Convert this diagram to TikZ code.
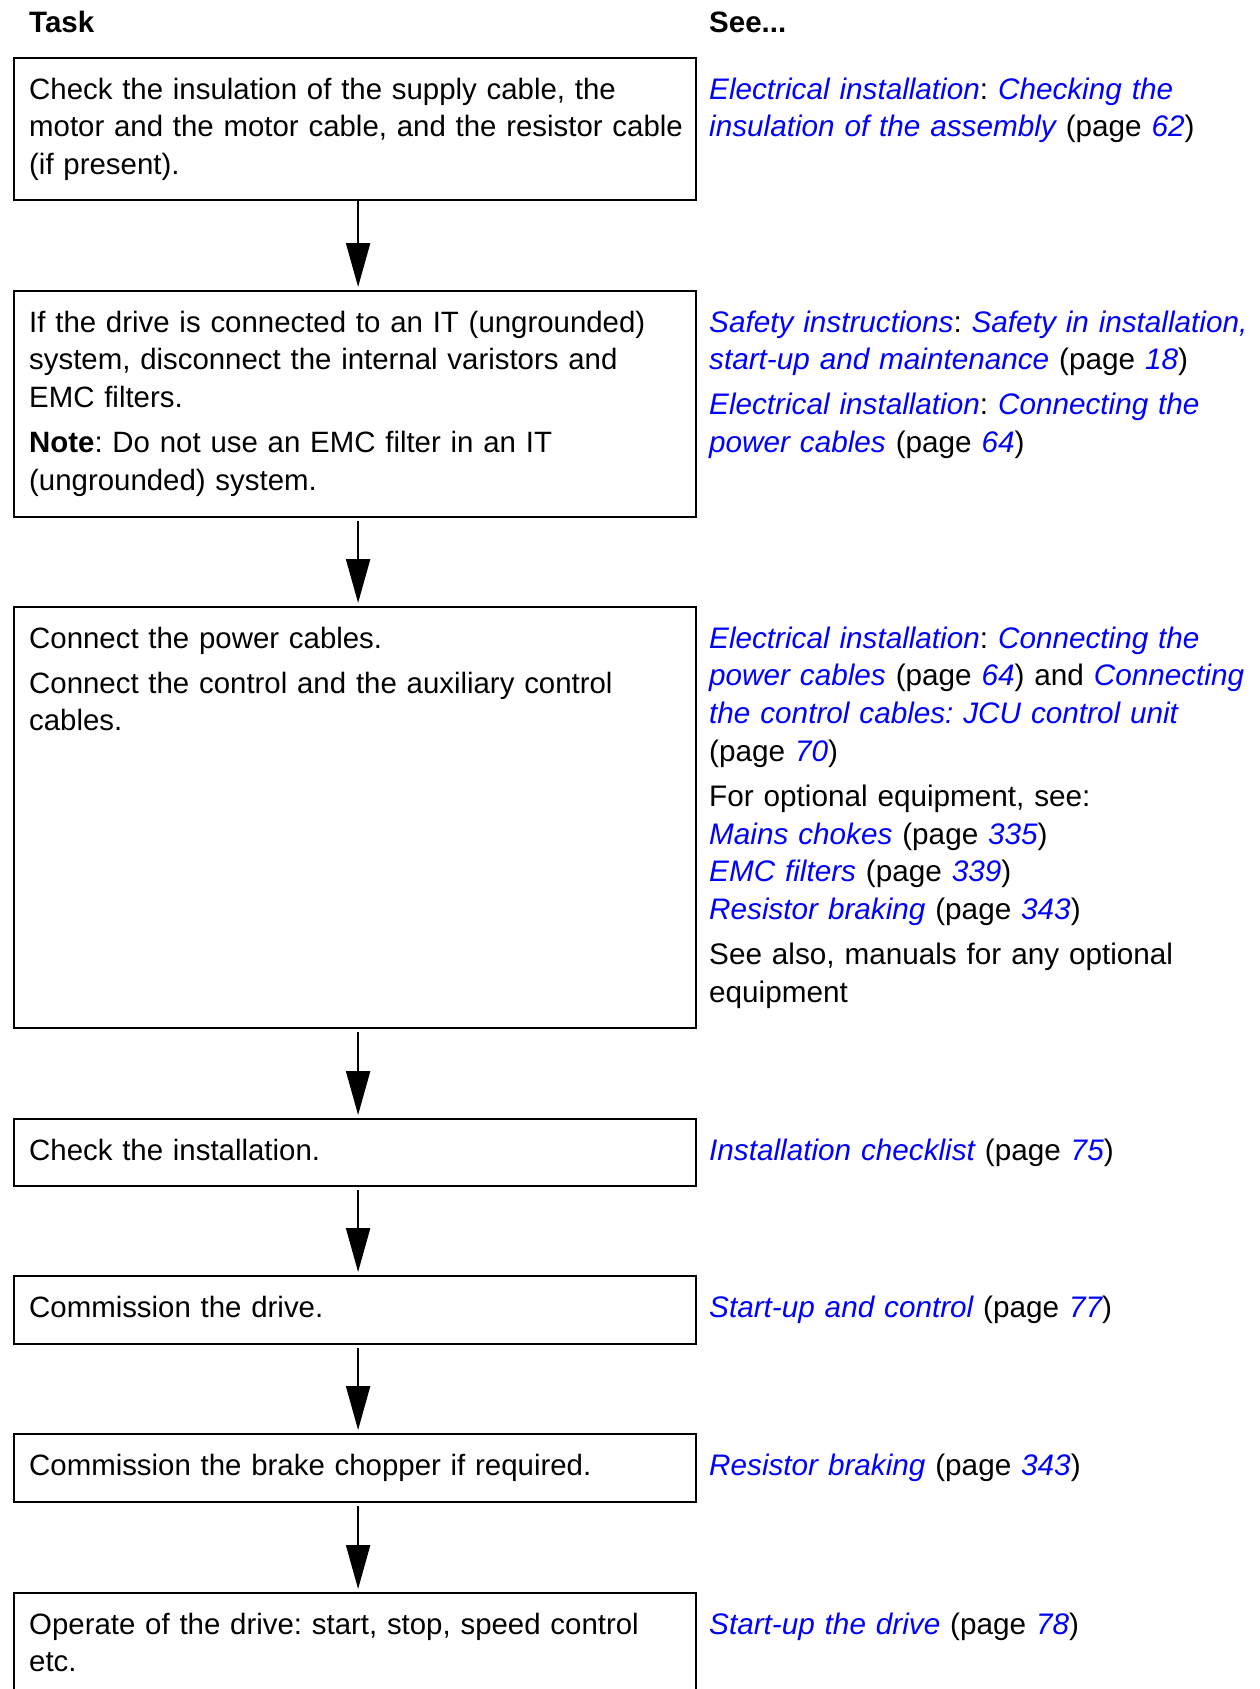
\documentclass[tikz,border=0pt]{standalone}
\usepackage{fontspec}
\setmainfont{Liberation Sans}
\usetikzlibrary{arrows.meta}
\definecolor{linkblue}{RGB}{0,0,255}
\newcommand{\lk}[1]{\textcolor{linkblue}{\itshape #1}}
\frenchspacing
\begin{document}
\begin{tikzpicture}[x=1pt,y=-1pt,
  box/.style={draw, line width=2.2pt, inner sep=0pt, minimum width=682pt, anchor=north west},
  txt/.style={anchor=base west, inner sep=0pt, text width=680pt, align=left, font=\fontsize{29.4}{37.7}\selectfont},
  see/.style={anchor=base west, inner sep=0pt, text width=600pt, align=left, font=\fontsize{29.7}{37.7}\selectfont},
  head/.style={anchor=base west, inner sep=0pt, font=\fontsize{29.5}{36}\selectfont\bfseries},
  arr/.style={line width=2.2pt, -{Triangle[length=44pt,width=24pt]}, shorten >=3pt}]
\clip (0,0) rectangle (1260,1689);
\useasboundingbox (0,0) rectangle (1260,1689);
% headers
\node[head] (htask) at (29,32) {Task};
\node[head] (hsee) at (709,32) {See...};
% boxes
\node[box, minimum height=142pt] (b1) at (13,57) {};
\node[box, minimum height=226pt] (b2) at (13,290) {};
\node[box, minimum height=421pt] (b3) at (13,606) {};
\node[box, minimum height=67pt] (b4) at (13,1118) {};
\node[box, minimum height=68pt] (b5) at (13,1275) {};
\node[box, minimum height=68pt] (b6) at (13,1433) {};
\node[box, minimum height=140pt] (b7) at (13,1592) {};
% task texts
\node[txt] (t1) at (29,99) {Check the insulation of the supply cable, the\\ motor and the motor cable, and the resistor cable\\ (if present).};
\node[txt] (t2) at (29,332) {If the drive is connected to an IT (ungrounded)\\ system, disconnect the internal varistors and\\ EMC filters.\\[7.5pt] \textbf{Note}: Do not use an EMC filter in an IT\\ (ungrounded) system.};
\node[txt] (t3) at (29,648) {Connect the power cables.\\[7.5pt] Connect the control and the auxiliary control\\ cables.};
\node[txt] (t4) at (29,1160) {Check the installation.};
\node[txt] (t5) at (29,1317) {Commission the drive.};
\node[txt] (t6) at (29,1475) {Commission the brake chopper if required.};
\node[txt] (t7) at (29,1634) {Operate of the drive: start, stop, speed control\\ etc.};
% see texts
\node[see] (s1) at (709,99) {\lk{Electrical installation}: \lk{Checking the}\\ \lk{insulation of the assembly} (page \lk{62})};
\node[see] (s2) at (709,332) {\lk{Safety instructions}: \lk{Safety in installation,}\\ \lk{start-up and maintenance} (page \lk{18})\\[7.5pt] \lk{Electrical installation}: \lk{Connecting the}\\ \lk{power cables} (page \lk{64})};
\node[see] (s3) at (709,648) {\lk{Electrical installation}: \lk{Connecting the}\\ \lk{power cables} (page \lk{64}) and \lk{Connecting}\\ \lk{the control cables: JCU control unit}\\ (page \lk{70})\\[7.5pt] For optional equipment, see:\\ \lk{Mains chokes} (page \lk{335})\\ \lk{EMC filters} (page \lk{339})\\ \lk{Resistor braking} (page \lk{343})\\[7.5pt] See also, manuals for any optional\\ equipment};
\node[see] (s4) at (709,1160) {\lk{Installation checklist} (page \lk{75})};
\node[see] (s5) at (709,1317) {\lk{Start-up and control} (page \lk{77})};
\node[see] (s6) at (709,1475) {\lk{Resistor braking} (page \lk{343})};
\node[see] (s7) at (709,1634) {\lk{Start-up the drive} (page \lk{78})};
% arrows
\draw[arr] ([xshift=3pt]b1.south) -- ([xshift=3pt]b2.north);
\draw[arr, shorten <=3pt] ([xshift=3pt]b2.south) -- ([xshift=3pt]b3.north);
\draw[arr, shorten <=3pt] ([xshift=3pt]b3.south) -- ([xshift=3pt]b4.north);
\draw[arr, shorten <=3pt] ([xshift=3pt]b4.south) -- ([xshift=3pt]b5.north);
\draw[arr, shorten <=3pt] ([xshift=3pt]b5.south) -- ([xshift=3pt]b6.north);
\draw[arr, shorten <=3pt] ([xshift=3pt]b6.south) -- ([xshift=3pt]b7.north);
\end{tikzpicture}
\end{document}
